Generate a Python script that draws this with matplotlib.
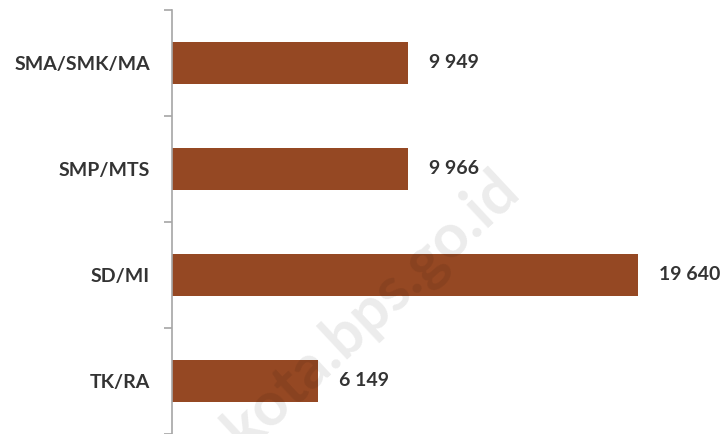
import matplotlib.pyplot as plt

# data (bottom to top)
jenjang = ['TK/RA', 'SD/MI', 'SMP/MTS', 'SMA/SMK/MA']
jumlah = [6149, 19640, 9966, 9949]

bar_color = '#954823'
text_color = '#333333'

fig = plt.figure(figsize=(7.25, 4.34), dpi=100)
ax = fig.add_axes([172 / 725, 0, 522 / 725, 424 / 434])

pos = list(range(len(jenjang)))
ax.barh(pos, jumlah, height=0.4, color=bar_color)

ax.set_xlim(0, 22000)
ax.set_ylim(-0.5, len(jenjang) - 0.5)

for p, v in zip(pos, jumlah):
    lbl = f'{v:,}'.replace(',', ' ')
    ax.annotate(lbl, (v, p), xytext=(15, 0), textcoords='offset points',
                ha='left', va='center', fontsize=14, fontweight='bold',
                family='Lato', color=text_color, annotation_clip=False)

ax.set_yticks(pos)
ax.set_yticklabels(jenjang, fontsize=14, fontweight='bold', family='Lato',
                   color=text_color)
ax.tick_params(axis='y', which='major', length=0, pad=16)
ax.set_yticks([p - 0.5 for p in pos] + [len(jenjang) - 0.5], minor=True)
ax.tick_params(axis='y', which='minor', length=6, width=1.2, color='#a6a6a6',
               direction='out')

ax.set_xticks([])
for s in ['top', 'right', 'bottom']:
    ax.spines[s].set_visible(False)
ax.spines['left'].set_color('#a6a6a6')
ax.spines['left'].set_linewidth(1.2)

# watermark
fig.text(510 / 725, 1 - 180 / 434, 'kota.bps.go.id', rotation=43,
         rotation_mode='anchor', fontsize=44, fontweight='bold',
         family='Lato', color='#000000', alpha=0.08,
         ha='right', va='center')
ax.set_zorder(1)
ax.patch.set_alpha(0)

fig.savefig('out.png', dpi=100)
